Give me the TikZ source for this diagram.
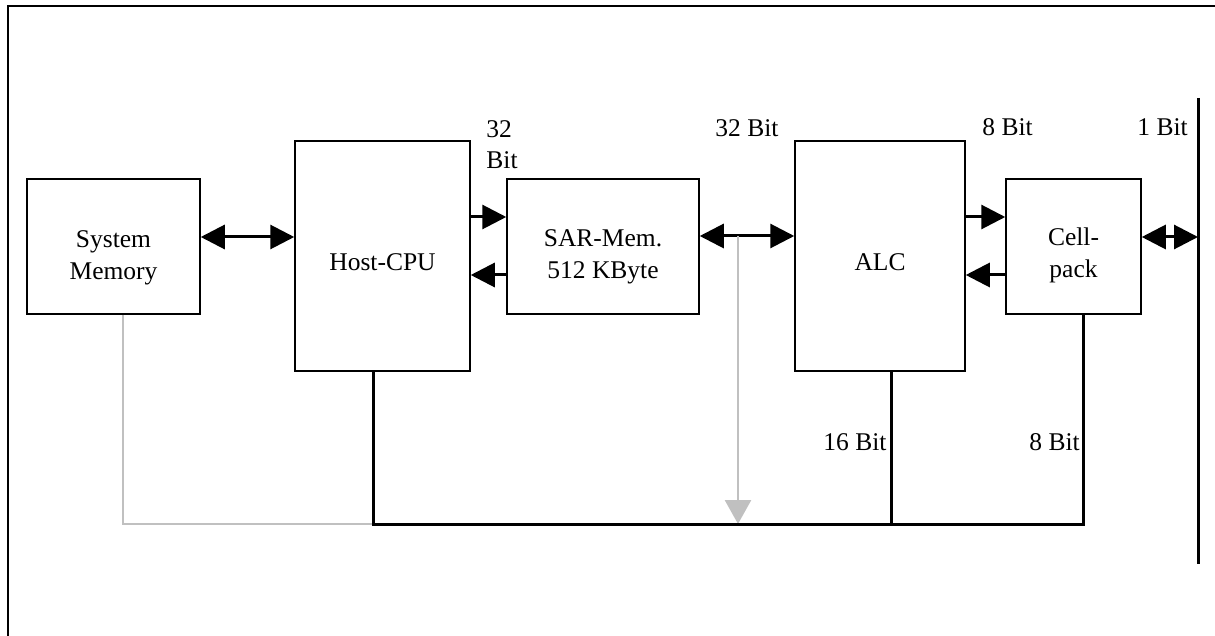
\documentclass[tikz,border=0pt]{standalone}
\usepackage{fontspec}
\setmainfont{Liberation Serif}
\usetikzlibrary{arrows.meta,calc}
\definecolor{gry}{RGB}{192,192,192}
\begin{document}
\begin{tikzpicture}[x=0.5pt,y=-0.5pt,
  box/.style={draw,line width=0.75pt,inner sep=0pt},
  txt/.style={font=\fontsize{12.75}{16}\selectfont,align=center,inner sep=0pt},
  lbl/.style={font=\fontsize{12.75}{15.5}\selectfont,inner sep=0pt,anchor=base west},
  arr/.style={line width=1.5pt,-{Triangle[length=12pt,width=12pt]}},
  dbl/.style={line width=1.5pt,{Triangle[length=12pt,width=12pt]}-{Triangle[length=12pt,width=12pt]}},
  bus/.style={line width=1.5pt},
  gline/.style={line width=1.4pt,draw=gry}]
\useasboundingbox (0,0) rectangle (1215,636);
\draw[line width=1pt] (1215,6) -- (8,6) -- (8,636);
% boxes
\node[box,minimum width=86.5pt,minimum height=67.5pt] (sm) at (113.5,246.5) {};
\node[txt] (smt) at (113.5,258) {System\\Memory};
\node[box,minimum width=87.5pt,minimum height=115pt] (host) at (382.5,256) {};
\node[txt] (hostt) at (382.5,262) {Host-CPU};
\node[box,minimum width=96pt,minimum height=67.5pt] (sar) at (603,246.5) {};
\node[txt] (sart) at (603,257) {SAR-Mem.\\512 KByte};
\node[box,minimum width=85pt,minimum height=115pt] (alc) at (880,256) {};
\node[txt] (alct) at (880,262) {ALC};
\node[box,minimum width=67.5pt,minimum height=67.5pt] (cp) at (1073.5,246.5) {};
\node[txt] (cpt) at (1073.5,255) {Cell-\\pack};
% coordinates
\coordinate (vt) at (1198,98);
\coordinate (vb) at (1198,564);
\coordinate (b1) at (373,524);
\coordinate (b2) at (891,524);
\coordinate (b4) at (1083,524);
\coordinate (g0) at (123,524);
\coordinate (g1) at (738,524);
\coordinate (sa) at ($(sar.east)+(0,-10.5)$);
\coordinate (cpa) at ($(cp.east)+(0,-9.5)$);
% arrows
\draw[dbl] ($(sm.east)+(0,-9.5)$) -- ($(host.west)+(0,-19)$);
\draw[arr] ($(host.east)+(0,-39)$) -- ($(sar.west)+(0,-29.5)$);
\draw[arr] ($(sar.west)+(0,28.5)$) -- ($(host.east)+(0,19)$);
\draw[dbl] (sa) -- ($(alc.west)+(0,-20)$);
\draw[arr] ($(alc.east)+(0,-39)$) -- ($(cp.west)+(0,-29.5)$);
\draw[arr] ($(cp.west)+(0,28.5)$) -- ($(alc.east)+(0,19)$);
\draw[dbl] (cpa) -- (cpa -| vt);
\draw[line width=1.5pt] (vt) -- (vb);
% gray
\draw[gline] (sm.south -| g0) -- (g0) -- (b1);
\draw[gline,-{Triangle[length=12pt,width=13pt]}] (sa -| g1) -- (g1);
% bus
\draw[bus] (host.south -| b1) -- (b1) -- (b4) -- (cp.south -| b4);
\draw[bus] (alc.south -| b2) -- (b2);
% labels
\node[lbl,align=left,anchor=north west] (l1) at (486,120) {32\\Bit};
\node[lbl] (l2) at (715,137) {32 Bit};
\node[lbl] (l3) at (982,136) {8 Bit};
\node[lbl] (l4) at (1137,136) {1 Bit};
\node[lbl] (l5) at (823,450) {16 Bit};
\node[lbl] (l6) at (1029,450) {8 Bit};
\end{tikzpicture}
\end{document}
